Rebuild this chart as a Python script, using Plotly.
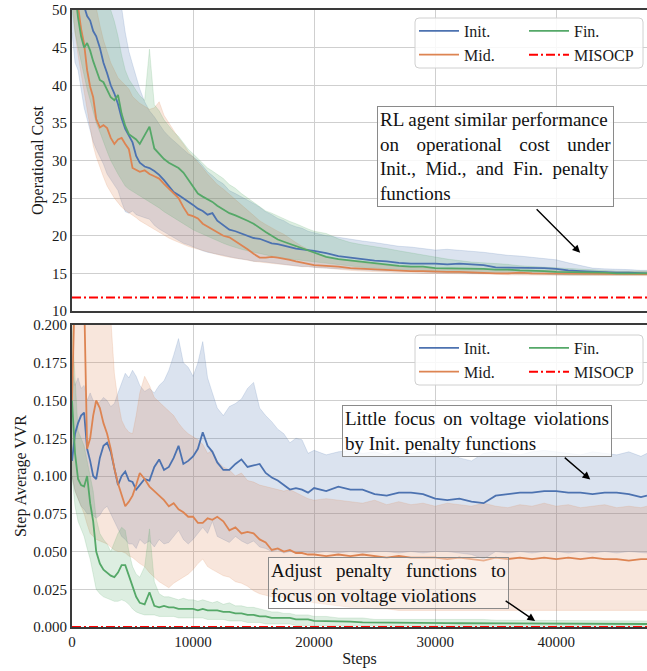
import plotly.graph_objects as go

# ---------------- data ----------------
steps = [0, 250, 500, 750, 1000, 1250, 1500, 1750, 2000, 2300,
         2600, 2900, 3200, 3500, 3800, 4100, 4400, 4700, 5000, 5300,
         5600, 6000, 6400, 6800, 7200, 7600, 8000, 8400, 8800, 9200,
         9600, 10000, 10400, 10800, 11200, 11600, 12000, 12500, 13000, 13500,
         14000, 14500, 15000, 15500, 16000, 16500, 17000, 17500, 18000, 18500,
         19000, 19500, 20000, 21000, 22000, 23000, 24000, 25000, 26000, 27000,
         28000, 29000, 30000, 31000, 32000, 33000, 34000, 35000, 36000, 37000,
         38000, 39000, 40000, 41000, 42000, 43000, 44000, 45000, 46000, 47000,
         47500]

cost_init_mean = [56.0, 55.0, 54.0, 52.5, 50.5, 49.2, 48.6, 47.2, 46.5, 45.0,
                  43.0, 41.6, 40.0, 38.9, 37.5, 35.6, 34.2, 33.3, 32.4, 30.6,
                  29.7, 29.2, 29.0, 28.6, 28.1, 27.4, 26.6, 25.8, 25.4, 25.0,
                  24.6, 24.1, 23.6, 23.3, 22.8, 23.0, 22.0, 21.4, 20.8, 20.6,
                  20.3, 19.9, 19.7, 19.6, 19.3, 19.0, 18.9, 18.7, 18.4, 18.3,
                  18.2, 18.1, 18.0, 17.7, 17.3, 17.1, 16.9, 16.7, 16.6, 16.4,
                  16.3, 16.3, 16.3, 16.2, 16.3, 16.2, 16.1, 15.8, 15.8, 15.8,
                  15.7, 15.7, 15.6, 15.4, 15.3, 15.2, 15.2, 15.1, 15.1, 15.0,
                  15.0]
cost_init_upper = [62, 62, 61, 60, 60, 59, 58, 57, 57, 56,
                   55, 54, 53.5, 52.5, 51.5, 50.3, 47.0, 44.5, 42.8, 41.0,
                   39.5, 37.8, 36.6, 35.8, 34.9, 33.9, 33.2, 32.6, 32.0, 31.4,
                   30.9, 30.5, 30.0, 29.3, 28.5, 28.0, 27.4, 26.9, 26.0, 25.6,
                   25.2, 24.8, 24.3, 23.8, 23.2, 22.8, 22.3, 22.0, 21.5, 21.2,
                   21.0, 20.6, 20.4, 20.0, 19.8, 19.5, 19.3, 19.1, 18.9, 18.6,
                   18.5, 18.3, 18.1, 18.2, 18.1, 18.0, 17.8, 17.6, 17.4, 17.3,
                   17.1, 17.0, 16.8, 16.4, 16.0, 15.7, 15.6, 15.6, 15.5, 15.4,
                   15.4]
cost_init_lower = [47.0, 43.0, 42.0, 39.5, 37.0, 35.5, 34.0, 32.5, 31.5, 30.5,
                   29.5, 28.2, 27.5, 26.8, 26.0, 24.5, 23.2, 23.0, 23.3, 22.8,
                   22.6, 22.4, 22.2, 21.4, 20.9, 20.5, 20.2, 19.7, 19.4, 19.0,
                   18.8, 18.5, 18.2, 18.0, 17.8, 17.7, 17.6, 17.4, 17.2, 17.0,
                   16.9, 16.8, 16.6, 16.6, 16.5, 16.4, 16.3, 16.2, 16.1, 16.0,
                   15.9, 15.9, 15.8, 15.7, 15.6, 15.5, 15.4, 15.4, 15.3, 15.3,
                   15.2, 15.2, 15.1, 15.1, 15.1, 15.0, 15.0, 15.0, 14.9, 14.9,
                   14.9, 14.9, 14.8, 14.8, 14.8, 14.8, 14.8, 14.8, 14.8, 14.8,
                   14.8]

cost_mid_mean = [58.0, 53.0, 50.5, 47.5, 45.5, 42.0, 39.8, 38.4, 35.5, 34.4,
                 34.7, 34.3, 33.0, 32.2, 32.8, 33.0, 32.2, 31.5, 29.0, 28.7,
                 28.5, 28.7, 28.2, 27.9, 27.6, 26.9, 26.3, 25.6, 25.0, 23.8,
                 22.8, 22.6, 22.3, 21.6, 21.2, 20.9, 20.4, 20.0, 19.8, 19.3,
                 18.8, 18.2, 17.6, 17.1, 17.1, 17.2, 17.1, 17.0, 16.8, 16.6,
                 16.4, 16.2, 16.1, 16.0, 15.9, 15.7, 15.6, 15.6, 15.5, 15.4,
                 15.3, 15.3, 15.2, 15.2, 15.2, 15.1, 15.1, 15.0, 15.0, 15.1,
                 15.0, 15.0, 15.0, 15.0, 15.0, 14.9, 15.0, 14.9, 14.9, 14.9,
                 14.9]
cost_mid_upper = [65, 64, 62, 60, 58, 56, 54, 52, 50.5, 48.0,
                  46.0, 44.5, 43.0, 42.0, 41.0, 40.5, 40.0, 39.5, 38.5, 38.0,
                  37.6, 37.2, 36.8, 37.0, 37.8, 36.0, 35.0, 34.0, 33.0, 32.2,
                  31.2, 30.5, 29.8, 29.0, 28.2, 27.5, 26.8, 26.2, 25.5, 24.8,
                  24.0, 23.3, 22.6, 22.0, 21.5, 21.0, 20.6, 20.2, 19.6, 19.1,
                  18.6, 18.2, 17.8, 17.2, 16.9, 16.6, 16.4, 16.2, 16.0, 15.9,
                  15.8, 15.7, 15.7, 15.6, 15.6, 15.5, 15.5, 15.5, 15.4, 15.4,
                  15.4, 15.3, 15.3, 15.3, 15.3, 15.2, 15.2, 15.2, 15.2, 15.2,
                  15.2]
cost_mid_lower = [52, 47, 44, 41.5, 39.5, 37.0, 34.5, 32.0, 30.5, 29.0,
                  27.8, 26.6, 25.8, 25.0, 24.4, 23.8, 23.4, 23.1, 22.8, 22.4,
                  22.0, 21.6, 21.2, 20.8, 20.4, 20.0, 19.7, 19.4, 19.1, 18.8,
                  18.6, 18.4, 18.2, 18.0, 17.8, 17.6, 17.5, 17.3, 17.1, 17.0,
                  16.9, 16.8, 16.6, 16.5, 16.4, 16.3, 16.2, 16.2, 16.1, 16.0,
                  15.9, 15.9, 15.8, 15.7, 15.5, 15.4, 15.3, 15.2, 15.2, 15.1,
                  15.1, 15.0, 15.0, 15.0, 14.9, 14.9, 14.9, 14.9, 14.8, 14.8,
                  14.8, 14.8, 14.8, 14.8, 14.7, 14.7, 14.7, 14.7, 14.7, 14.7,
                  14.7]

cost_fin_mean = [56.0, 52.0, 49.0, 46.5, 45.0, 45.6, 44.6, 43.2, 42.0, 40.7,
                 40.4, 39.5, 38.4, 38.0, 38.7, 36.2, 34.6, 33.5, 33.2, 32.8,
                 32.2, 33.4, 34.5, 31.6, 30.9, 30.2, 29.7, 29.3, 29.0, 28.4,
                 27.5, 26.6, 25.6, 25.2, 24.9, 24.5, 24.0, 23.5, 23.0, 22.7,
                 22.4, 22.0, 21.6, 21.0, 20.5, 20.0, 19.5, 19.2, 18.9, 18.6,
                 18.4, 18.1, 17.8, 17.2, 16.9, 16.7, 16.5, 16.3, 16.2, 16.0,
                 15.9, 15.9, 15.7, 15.7, 15.6, 15.6, 15.6, 15.5, 15.5, 15.4,
                 15.4, 15.3, 15.2, 15.2, 15.1, 15.1, 15.1, 15.0, 15.0, 15.0,
                 15.0]
cost_fin_upper = [62, 61, 60, 59, 58, 57, 56, 55, 54, 53,
                  52, 51, 50, 48.5, 46.5, 44.0, 42.0, 40.8, 40.0, 39.3,
                  38.6, 38.0, 44.8, 37.4, 36.6, 35.4, 34.6, 33.8, 33.2, 32.4,
                  31.5, 30.9, 30.3, 29.6, 29.0, 28.6, 28.2, 27.6, 26.8, 26.3,
                  25.6, 25.0, 24.4, 23.8, 23.3, 23.0, 22.6, 22.3, 21.9, 21.6,
                  21.2, 20.9, 20.6, 20.3, 19.6, 19.1, 18.8, 18.6, 18.3, 18.0,
                  17.7, 17.4, 17.1, 16.9, 16.7, 16.5, 16.4, 16.3, 16.2, 16.0,
                  15.9, 15.8, 15.7, 15.6, 15.5, 15.4, 15.4, 15.3, 15.3, 15.3,
                  15.3]
cost_fin_lower = [50, 47, 45, 43, 41, 39.5, 38, 36.5, 35, 33.8,
                  32.4, 31.2, 30.0, 29.0, 28.2, 27.4, 26.6, 26.2, 25.9, 25.6,
                  25.3, 25.0, 24.6, 24.2, 23.7, 23.2, 22.8, 22.3, 21.9, 21.5,
                  21.1, 20.8, 20.5, 20.2, 19.9, 19.6, 19.3, 19.0, 18.7, 18.4,
                  18.2, 18.0, 17.8, 17.6, 17.4, 17.3, 17.1, 17.0, 16.9, 16.8,
                  16.7, 16.6, 16.5, 16.3, 16.1, 15.9, 15.8, 15.7, 15.6, 15.5,
                  15.4, 15.3, 15.2, 15.2, 15.1, 15.1, 15.0, 15.0, 15.0, 14.9,
                  14.9, 14.9, 14.9, 14.8, 14.8, 14.8, 14.8, 14.8, 14.8, 14.8,
                  14.8]
misocp_cost = 11.8

vvr_init_mean = [0.110, 0.128, 0.135, 0.140, 0.142, 0.118, 0.110, 0.100, 0.098, 0.112,
                 0.120, 0.122, 0.116, 0.104, 0.094, 0.100, 0.103, 0.097, 0.096, 0.091,
                 0.094, 0.098, 0.097, 0.106, 0.111, 0.104, 0.106, 0.112, 0.120, 0.108,
                 0.110, 0.113, 0.118, 0.129, 0.120, 0.116, 0.109, 0.104, 0.104, 0.108,
                 0.111, 0.106, 0.107, 0.108, 0.102, 0.099, 0.097, 0.094, 0.091, 0.092,
                 0.091, 0.089, 0.092, 0.090, 0.093, 0.091, 0.091, 0.088, 0.087, 0.089,
                 0.089, 0.088, 0.085, 0.084, 0.085, 0.083, 0.082, 0.087, 0.088, 0.089,
                 0.089, 0.090, 0.090, 0.089, 0.089, 0.088, 0.089, 0.089, 0.088, 0.086,
                 0.087]
vvr_init_upper = [0.170, 0.160, 0.165, 0.158, 0.160, 0.150, 0.155, 0.150, 0.148, 0.149,
                  0.152, 0.150, 0.146, 0.148, 0.155, 0.162, 0.168, 0.165, 0.170, 0.166,
                  0.160, 0.156, 0.158, 0.155, 0.160, 0.163, 0.170, 0.180, 0.191, 0.175,
                  0.172, 0.166, 0.175, 0.189, 0.165, 0.155, 0.145, 0.140, 0.146, 0.148,
                  0.151, 0.158, 0.162, 0.145, 0.140, 0.136, 0.131, 0.128, 0.122, 0.125,
                  0.124, 0.115, 0.117, 0.114, 0.116, 0.117, 0.115, 0.116, 0.114, 0.117,
                  0.115, 0.116, 0.114, 0.117, 0.112, 0.110, 0.115, 0.116, 0.115, 0.114,
                  0.116, 0.117, 0.116, 0.115, 0.114, 0.116, 0.115, 0.114, 0.116, 0.113,
                  0.115]
vvr_init_lower = [0.100, 0.090, 0.085, 0.080, 0.078, 0.075, 0.075, 0.074, 0.072, 0.074,
                  0.078, 0.080, 0.075, 0.070, 0.066, 0.060, 0.058, 0.055, 0.055, 0.052,
                  0.058, 0.055, 0.057, 0.053, 0.058, 0.055, 0.056, 0.060, 0.064, 0.058,
                  0.055, 0.058, 0.062, 0.066, 0.062, 0.070, 0.060, 0.058, 0.056, 0.060,
                  0.057, 0.055, 0.057, 0.053, 0.052, 0.050, 0.051, 0.049, 0.050, 0.049,
                  0.050, 0.049, 0.049, 0.050, 0.049, 0.050, 0.049, 0.050, 0.050, 0.049,
                  0.050, 0.049, 0.050, 0.050, 0.049, 0.048, 0.045, 0.050, 0.049, 0.050,
                  0.049, 0.050, 0.050, 0.049, 0.050, 0.049, 0.050, 0.049, 0.050, 0.049,
                  0.049]

vvr_mid_mean = [0.150, 0.230, 0.240, 0.235, 0.220, 0.118, 0.125, 0.140, 0.150, 0.145,
                0.135, 0.128, 0.118, 0.105, 0.095, 0.088, 0.080, 0.083, 0.087, 0.094,
                0.102, 0.098, 0.093, 0.090, 0.087, 0.084, 0.080, 0.082, 0.078, 0.076,
                0.073, 0.073, 0.069, 0.069, 0.072, 0.071, 0.073, 0.070, 0.064, 0.066,
                0.062, 0.063, 0.062, 0.058, 0.056, 0.051, 0.052, 0.050, 0.051, 0.049,
                0.049, 0.048, 0.048, 0.047, 0.048, 0.047, 0.048, 0.047, 0.046, 0.047,
                0.046, 0.046, 0.046, 0.045, 0.046, 0.045, 0.044, 0.046, 0.045, 0.046,
                0.045, 0.046, 0.045, 0.046, 0.045, 0.046, 0.045, 0.045, 0.044, 0.045,
                0.045]
vvr_mid_upper = [0.25, 0.30, 0.30, 0.30, 0.30, 0.28, 0.27, 0.26, 0.25, 0.24,
                 0.23, 0.22, 0.205, 0.168, 0.150, 0.137, 0.132, 0.129, 0.128, 0.140,
                 0.155, 0.166, 0.160, 0.152, 0.149, 0.146, 0.143, 0.140, 0.135, 0.131,
                 0.128, 0.126, 0.124, 0.121, 0.115, 0.117, 0.110, 0.106, 0.104, 0.100,
                 0.102, 0.097, 0.096, 0.094, 0.093, 0.092, 0.091, 0.090, 0.091, 0.089,
                 0.087, 0.085, 0.084, 0.085, 0.084, 0.083, 0.082, 0.084, 0.081, 0.083,
                 0.081, 0.082, 0.080, 0.082, 0.081, 0.080, 0.082, 0.080, 0.079, 0.081,
                 0.080, 0.082, 0.080, 0.081, 0.079, 0.080, 0.081, 0.079, 0.080, 0.079,
                 0.080]
vvr_mid_lower = [0.100, 0.090, 0.085, 0.080, 0.075, 0.068, 0.062, 0.060, 0.058, 0.057,
                 0.056, 0.055, 0.053, 0.051, 0.050, 0.050, 0.049, 0.047, 0.046, 0.044,
                 0.042, 0.040, 0.036, 0.033, 0.030, 0.028, 0.026, 0.029, 0.031, 0.033,
                 0.035, 0.038, 0.042, 0.045, 0.040, 0.038, 0.036, 0.034, 0.033, 0.030,
                 0.029, 0.027, 0.024, 0.022, 0.021, 0.020, 0.020, 0.019, 0.018, 0.018,
                 0.017, 0.017, 0.016, 0.015, 0.014, 0.013, 0.013, 0.012, 0.012, 0.011,
                 0.011, 0.011, 0.011, 0.011, 0.011, 0.011, 0.011, 0.011, 0.011, 0.011,
                 0.011, 0.011, 0.011, 0.011, 0.011, 0.011, 0.011, 0.011, 0.011, 0.011,
                 0.011]

vvr_fin_mean = [0.150, 0.115, 0.098, 0.094, 0.093, 0.100, 0.082, 0.070, 0.050, 0.042,
                0.038, 0.036, 0.034, 0.033, 0.036, 0.041, 0.041, 0.034, 0.027, 0.020,
                0.016, 0.015, 0.023, 0.014, 0.013, 0.014, 0.013, 0.013, 0.012, 0.012,
                0.012, 0.012, 0.011, 0.012, 0.011, 0.011, 0.011, 0.010, 0.010, 0.009,
                0.009, 0.008, 0.008, 0.007, 0.007, 0.006, 0.006, 0.006, 0.006, 0.005,
                0.005, 0.005, 0.004, 0.004, 0.0035, 0.0035, 0.003, 0.003, 0.003, 0.003,
                0.0028, 0.0028, 0.0027, 0.0026, 0.0025, 0.0025, 0.0025, 0.0024, 0.0024, 0.0023,
                0.0022, 0.0022, 0.0021, 0.0020, 0.0020, 0.0020, 0.0020, 0.0020, 0.0020, 0.0020,
                0.0020]
vvr_fin_upper = [0.200, 0.160, 0.130, 0.125, 0.120, 0.110, 0.100, 0.090, 0.072, 0.062,
                 0.058, 0.055, 0.050, 0.056, 0.062, 0.066, 0.064, 0.050, 0.040, 0.035,
                 0.033, 0.040, 0.065, 0.030, 0.022, 0.020, 0.020, 0.019, 0.018, 0.019,
                 0.018, 0.018, 0.017, 0.018, 0.017, 0.016, 0.017, 0.015, 0.016, 0.014,
                 0.014, 0.013, 0.013, 0.012, 0.011, 0.010, 0.010, 0.009, 0.009, 0.008,
                 0.008, 0.008, 0.007, 0.007, 0.006, 0.006, 0.006, 0.005, 0.005, 0.005,
                 0.005, 0.005, 0.005, 0.005, 0.005, 0.005, 0.005, 0.0045, 0.0045, 0.0045,
                 0.0045, 0.0045, 0.004, 0.004, 0.004, 0.004, 0.004, 0.004, 0.004, 0.004,
                 0.004]
vvr_fin_lower = [0.100, 0.080, 0.070, 0.065, 0.060, 0.052, 0.045, 0.035, 0.025, 0.022,
                 0.020, 0.019, 0.018, 0.017, 0.017, 0.018, 0.017, 0.015, 0.012, 0.010,
                 0.009, 0.008, 0.008, 0.008, 0.007, 0.007, 0.007, 0.007, 0.006, 0.006,
                 0.006, 0.006, 0.006, 0.006, 0.005, 0.005, 0.005, 0.005, 0.004, 0.004,
                 0.004, 0.003, 0.003, 0.003, 0.002, 0.002, 0.002, 0.002, 0.002, 0.001,
                 0.001, 0.001, 0.001, 0.001, 0.0008, 0.0008, 0.0007, 0.0007, 0.0006, 0.0006,
                 0.0006, 0.0005, 0.0005, 0.0005, 0.0005, 0.0005, 0.0005, 0.0005, 0.0005, 0.0005,
                 0.0005, 0.0005, 0.0005, 0.0005, 0.0005, 0.0005, 0.0005, 0.0005, 0.0005, 0.0005,
                 0.0005]
misocp_vvr = 0.0

series_names = ["Init.", "Mid.", "Fin."]
x_ticks = [0, 10000, 20000, 30000, 40000]

# ---------------- styling ----------------
FONT = "Liberation Serif"
TXT = "#1a1a1a"
COLORS = {"Init.": "#4C72B0", "Mid.": "#DD8452", "Fin.": "#55A868"}
FILLS = {"Init.": "rgba(76,114,176,0.20)", "Mid.": "rgba(221,132,82,0.20)",
         "Fin.": "rgba(85,168,104,0.20)"}
EDGES = {"Init.": "rgba(76,114,176,0.22)", "Mid.": "rgba(221,132,82,0.22)",
         "Fin.": "rgba(85,168,104,0.22)"}
RED = "#FF0000"
GRID = "#cfcfcf"
FRAME = "#3a3a3a"

fig = go.Figure()

top = {"Init.": (cost_init_mean, cost_init_lower, cost_init_upper),
       "Mid.": (cost_mid_mean, cost_mid_lower, cost_mid_upper),
       "Fin.": (cost_fin_mean, cost_fin_lower, cost_fin_upper)}
bot = {"Init.": (vvr_init_mean, vvr_init_lower, vvr_init_upper),
       "Mid.": (vvr_mid_mean, vvr_mid_lower, vvr_mid_upper),
       "Fin.": (vvr_fin_mean, vvr_fin_lower, vvr_fin_upper)}

for data, xa, ya in [(top, "x", "y"), (bot, "x2", "y2")]:
    for name in series_names:
        _, lo, hi = data[name]
        fig.add_trace(go.Scatter(x=steps, y=lo, mode="lines", xaxis=xa, yaxis=ya,
                                 line=dict(color=EDGES[name], width=0.8),
                                 showlegend=False, hoverinfo="skip"))
        fig.add_trace(go.Scatter(x=steps, y=hi, mode="lines", xaxis=xa, yaxis=ya,
                                 fill="tonexty", fillcolor=FILLS[name],
                                 line=dict(color=EDGES[name], width=0.8),
                                 showlegend=False, hoverinfo="skip"))

legend_of = {("x", "Init."): "legend", ("x", "Mid."): "legend",
             ("x", "Fin."): "legend3", ("x", "MISOCP"): "legend3",
             ("x2", "Init."): "legend2", ("x2", "Mid."): "legend2",
             ("x2", "Fin."): "legend4", ("x2", "MISOCP"): "legend4"}

for data, xa, ya, mis in [(top, "x", "y", misocp_cost), (bot, "x2", "y2", misocp_vvr)]:
    for name in series_names:
        mean = data[name][0]
        fig.add_trace(go.Scatter(x=steps, y=mean, mode="lines", name=name,
                                 xaxis=xa, yaxis=ya, legend=legend_of[(xa, name)],
                                 line=dict(color=COLORS[name], width=1.8)))
    fig.add_trace(go.Scatter(x=[steps[0], steps[-1]], y=[mis, mis], mode="lines",
                             name="MISOCP", xaxis=xa, yaxis=ya,
                             legend=legend_of[(xa, "MISOCP")],
                             line=dict(color=RED, width=2, dash="9px,3px,2px,3px")))

# ---------------- layout ----------------
W, H = 647, 671
ML, MR, MT, MB = 72, 0, 10, 44
pw, ph = W - ML - MR, H - MT - MB
PLOT_L, PLOT_B = ML, H - MB


def px2x(px):
    return (px - PLOT_L) / pw


def py2y(py):
    return (PLOT_B - py) / ph


axis_common = dict(showgrid=True, gridcolor=GRID, gridwidth=1.3, zeroline=False,
                   showline=True, linecolor=FRAME, linewidth=1.8, ticks="",
                   ticklabeloverflow="allow",
                   tickfont=dict(family=FONT, size=15, color=TXT))

fig.update_layout(
    width=W, height=H, margin=dict(l=ML, r=MR, t=MT, b=MB, autoexpand=False),
    paper_bgcolor="white", plot_bgcolor="white",
    font=dict(family=FONT, color=TXT),
    xaxis=dict(axis_common, domain=[0, 1], anchor="y", range=[0, 47500],
               tickvals=x_ticks, showticklabels=False, mirror=True),
    yaxis=dict(axis_common, domain=[py2y(311), 1], anchor="x", range=[10, 50],
               tick0=10, dtick=5,
               title=dict(text="Operational Cost", standoff=4,
                          font=dict(family=FONT, size=16, color=TXT))),
    xaxis2=dict(axis_common, domain=[0, 1], anchor="y2", range=[0, 47500],
                tickvals=x_ticks, tickformat="d", mirror=True,
                title=dict(text="Steps", standoff=4,
                           font=dict(family=FONT, size=16, color=TXT))),
    yaxis2=dict(axis_common, domain=[0, py2y(325)], anchor="x2", range=[0, 0.2],
                tick0=0, dtick=0.025, tickformat=".3f",
                title=dict(text="Step Average VVR", standoff=3,
                           font=dict(family=FONT, size=16, color=TXT))),
)

leg_common = dict(xanchor="left", yanchor="top", bgcolor="rgba(0,0,0,0)",
                  borderwidth=0, font=dict(family=FONT, size=16, color=TXT),
                  itemwidth=40, tracegroupgap=0, orientation="v",
                  traceorder="normal")
fig.update_layout(
    legend=dict(leg_common, x=px2x(414), y=py2y(14)),
    legend3=dict(leg_common, x=px2x(524), y=py2y(14)),
    legend2=dict(leg_common, x=px2x(414), y=py2y(331)),
    legend4=dict(leg_common, x=px2x(524), y=py2y(331)),
)


def rounded_box(x0, x1, y0, y1, r=4):
    X0, X1 = px2x(x0), px2x(x1)
    Y0, Y1 = py2y(y1), py2y(y0)
    rx, ry = r / pw, r / ph
    return (f"M{X0+rx},{Y1} L{X1-rx},{Y1} Q{X1},{Y1} {X1},{Y1-ry} "
            f"L{X1},{Y0+ry} Q{X1},{Y0} {X1-rx},{Y0} L{X0+rx},{Y0} "
            f"Q{X0},{Y0} {X0},{Y0+ry} L{X0},{Y1-ry} Q{X0},{Y1} {X0+rx},{Y1} Z")


for (y0, y1) in [(18, 68), (335, 385)]:
    fig.add_shape(type="path", path=rounded_box(415, 643, y0, y1), xref="paper",
                  yref="paper", layer="above",
                  fillcolor="rgba(255,255,255,0.85)",
                  line=dict(color="#d0d0d0", width=1))

NB = "\u00a0"
G4 = NB * 3 + "\u2006"
G2 = NB + "\u2006"
top_text = ("RL agent similar performance<br>"
            f"on{G4}operational{G4}cost{G4}under<br>"
            f"Init.,{NB*2}Mid.,{NB*2}and{NB*2}Fin.{NB*2}penalty<br>"
            "functions")
little_text = (f"Little{G2}focus{G2}on{G2}voltage{G2}violations<br>"
               "by Init. penalty functions")
adjust_text = (f"Adjust{NB*3}penalty{NB*3}functions{NB*3}to<br>"
               "focus on voltage violations")

box_common = dict(showarrow=False, xanchor="left", yanchor="top", align="left",
                  bordercolor="#8a8a8a", borderwidth=1, borderpad=2,
                  font=dict(family=FONT, size=19, color="#111111"))

fig.add_annotation(box_common, text=top_text, xref="x", yref="y",
                   x=25200, y=37.2, bgcolor="rgba(255,255,255,0.85)")
fig.add_annotation(box_common, text=little_text, xref="x2", yref="y2",
                   x=22300, y=0.1470, bgcolor="rgba(255,255,255,0.8)")
fig.add_annotation(box_common, text=adjust_text, xref="x2", yref="y2",
                   x=16200, y=0.0465, bgcolor="rgba(255,255,255,0.35)")

arrows = [("x", "y", 41980, 17.73, 38260, 23.73),
          ("x2", "y2", 42810, 0.0977, 40580, 0.113),
          ("x2", "y2", 38260, 0.004, 35700, 0.018)]
for xr, yr, tx, ty, sx, sy in arrows:
    fig.add_annotation(text="", xref=xr, yref=yr, x=tx, y=ty,
                       axref=xr, ayref=yr, ax=sx, ay=sy, showarrow=True,
                       arrowhead=2, arrowsize=1.1, arrowwidth=1.4,
                       arrowcolor="black")

# remove the default 8 px page margin so the figure fills the window exactly
fig.write_html("out.html",
               config={"displayModeBar": False},
               post_script="document.body.style.margin='0';"
                           "document.body.style.overflow='hidden';")
